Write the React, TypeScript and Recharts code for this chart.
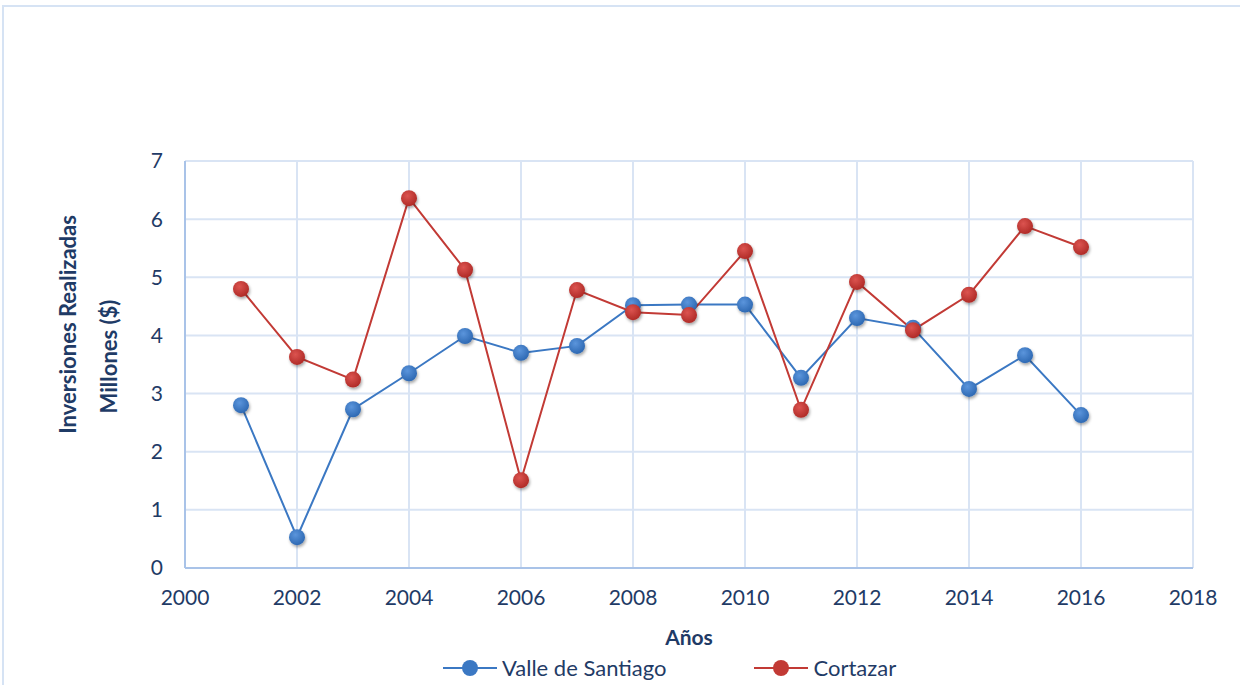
import React from 'react';
import { LineChart, Line, XAxis, YAxis, CartesianGrid, Legend } from 'recharts';

const years = [2001, 2002, 2003, 2004, 2005, 2006, 2007, 2008, 2009, 2010, 2011, 2012, 2013, 2014, 2015, 2016];
const valleSantiago = [2.8, 0.53, 2.73, 3.35, 3.99, 3.7, 3.82, 4.52, 4.53, 4.53, 3.27, 4.3, 4.13, 3.08, 3.66, 2.63];
const cortazar = [4.8, 3.63, 3.24, 6.36, 5.13, 1.51, 4.78, 4.4, 4.35, 5.45, 2.72, 4.92, 4.09, 4.7, 5.88, 5.52];
const xTicks = [2000, 2002, 2004, 2006, 2008, 2010, 2012, 2014, 2016, 2018];
const yTicks = [0, 1, 2, 3, 4, 5, 6, 7];
const seriesOrder = ['Valle de Santiago', 'Cortazar'];

const data = years.map((year, i) => ({
  year,
  valle: valleSantiago[i],
  cortazar: cortazar[i],
}));

const FONT = 'Lato, "Open Sans", sans-serif';
const TEXT = '#1f3b66';
const BLUE = '#3b78c3';
const RED = '#c23a35';
const GRID = '#d9e4f4';

const makeDot = (fillId: string) => (props: any) => {
  const { cx, cy, index } = props;
  if (cx == null || cy == null) return <g key={`e-${fillId}-${index}`} />;
  return (
    <circle
      key={`d-${fillId}-${index}`}
      cx={cx}
      cy={cy}
      r={8}
      fill={`url(#${fillId})`}
      filter="url(#dotShadow)"
    />
  );
};

const YTitle = (props: any) => {
  const { x, y, width, height } = props.viewBox;
  const right = x + width;
  const cy = y + height / 2;
  const style = { fontFamily: FONT, fontSize: 22, fontWeight: 700, fill: TEXT };
  return (
    <g>
      <text
        x={right - 118}
        y={cy - 40}
        textAnchor="middle"
        dominantBaseline="central"
        transform={`rotate(-90 ${right - 118} ${cy - 40})`}
        style={style}
      >
        Inversiones Realizadas
      </text>
      <text
        x={right - 77}
        y={cy - 8}
        textAnchor="middle"
        dominantBaseline="central"
        transform={`rotate(-90 ${right - 77} ${cy - 8})`}
        style={style}
      >
        Millones ($)
      </text>
    </g>
  );
};

const XTitle = (props: any) => {
  const { x, y, width } = props.viewBox;
  return (
    <text
      x={x + width / 2}
      y={y + 68}
      textAnchor="middle"
      dominantBaseline="central"
      style={{ fontFamily: FONT, fontSize: 21, fontWeight: 700, fill: TEXT }}
    >
      Años
    </text>
  );
};

const LegendContent = (props: any) => {
  const payload = [...(props.payload || [])].sort(
    (a: any, b: any) => seriesOrder.indexOf(a.value) - seriesOrder.indexOf(b.value)
  );
  return (
    <div style={{ display: 'flex', justifyContent: 'flex-start', gap: 88, paddingLeft: 443, fontFamily: FONT }}>
      {payload.map((entry: any) => (
        <div key={entry.value} style={{ display: 'flex', alignItems: 'center' }}>
          <svg width={54} height={20} style={{ marginRight: 5 }}>
            <line x1={0} y1={10} x2={54} y2={10} stroke={entry.color} strokeWidth={2} />
            <circle cx={27} cy={10} r={8} fill={entry.color} />
          </svg>
          <span style={{ fontSize: 22, color: TEXT }}>{entry.value}</span>
        </div>
      ))}
    </div>
  );
};

export default function App() {
  return (
    <div style={{ position: 'absolute', left: 0, top: 0, width: 1240, height: 685, background: '#fff', overflow: 'hidden' }}>
      <div
        style={{
          position: 'absolute',
          left: 2,
          top: 5,
          width: 1260,
          height: 700,
          border: '2px solid #d6e3f4',
        }}
      />
      <LineChart
        width={1240}
        height={685}
        data={data}
        margin={{ top: 161, right: 47, bottom: 87, left: 145 }}
        style={{ position: 'absolute', left: 0, top: 0 }}
      >
        <defs>
          <filter id="dotShadow" x="-50%" y="-50%" width="200%" height="200%">
            <feDropShadow dx={1} dy={2} stdDeviation={1.5} floodColor="#000" floodOpacity={0.35} />
          </filter>
          <radialGradient id="blueDot" cx="40%" cy="35%" r="65%">
            <stop offset="0%" stopColor="#5b95dc" />
            <stop offset="100%" stopColor="#2e69b3" />
          </radialGradient>
          <radialGradient id="redDot" cx="40%" cy="35%" r="65%">
            <stop offset="0%" stopColor="#dc5450" />
            <stop offset="100%" stopColor="#b02b27" />
          </radialGradient>
        </defs>
        <CartesianGrid stroke={GRID} strokeWidth={2} horizontal vertical />
        <XAxis
          dataKey="year"
          type="number"
          domain={[2000, 2018]}
          ticks={xTicks}
          height={30}
          tickSize={0}
          tickMargin={22}
          axisLine={{ stroke: '#a9c3e8', strokeWidth: 2 }}
          tick={{ fontFamily: FONT, fontSize: 21, fill: TEXT }}
          label={<XTitle />}
        />
        <YAxis
          width={40}
          domain={[0, 7]}
          ticks={yTicks}
          tickSize={0}
          tickMargin={22}
          axisLine={{ stroke: '#a9c3e8', strokeWidth: 2 }}
          tick={{ fontFamily: FONT, fontSize: 21, fill: TEXT }}
          label={<YTitle />}
        />
        <Legend
          layout="horizontal"
          verticalAlign="middle"
          align="center"
          wrapperStyle={{ top: 654, left: 0, width: 1240 }}
          content={<LegendContent />}
        />
        <Line
          dataKey="valle"
          name="Valle de Santiago"
          stroke={BLUE}
          strokeWidth={2}
          dot={makeDot('blueDot')}
          activeDot={false}
          isAnimationActive={false}
        />
        <Line
          dataKey="cortazar"
          name="Cortazar"
          stroke={RED}
          strokeWidth={2}
          dot={makeDot('redDot')}
          activeDot={false}
          isAnimationActive={false}
        />
      </LineChart>
    </div>
  );
}
